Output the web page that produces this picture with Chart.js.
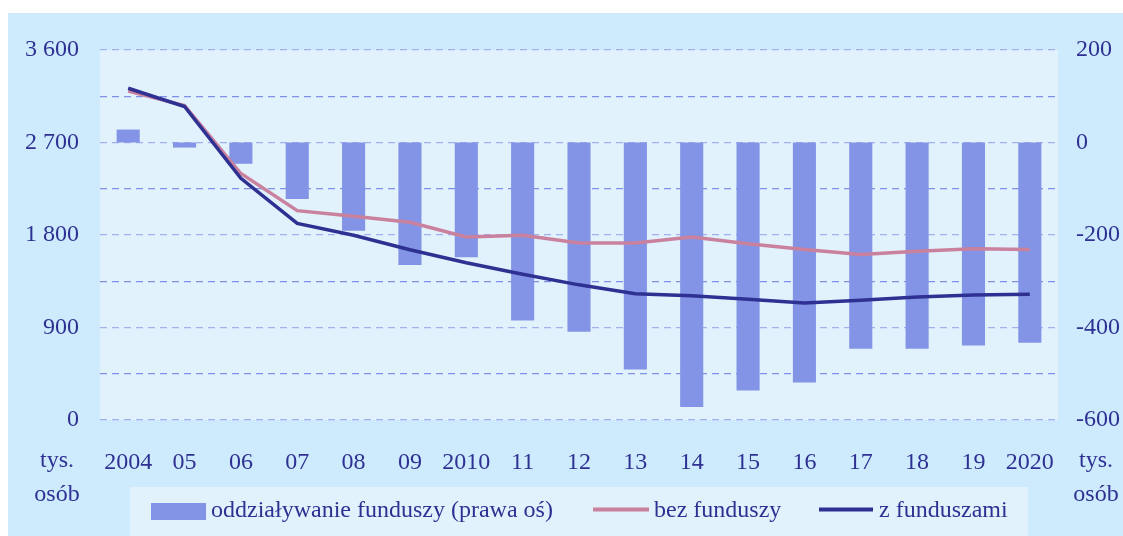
<!DOCTYPE html>
<html>
<head>
<meta charset="utf-8">
<script src="https://cdn.jsdelivr.net/npm/chart.js@4/dist/chart.umd.min.js"></script>
<style>
  html, body { margin: 0; padding: 0; background: #ffffff; }
  #wrap { width: 1123px; height: 536px; position: relative; }
</style>
</head>
<body>
<div id="wrap"><canvas id="fundsChart" width="1123" height="536"></canvas></div>
<script>
// values
const years = ['2004', '05', '06', '07', '08', '09', '2010', '11', '12', '13', '14', '15', '16', '17', '18', '19', '2020'];
const impact = [28, -11, -46, -122, -191, -265, -248, -385, -409, -491, -572, -536, -519, -446, -446, -439, -433];
const withoutFunds = [3200, 3060, 2398, 2037, 1982, 1924, 1781, 1797, 1722, 1722, 1780, 1715, 1658, 1610, 1642, 1665, 1658];
const withFunds = [3228, 3050, 2352, 1912, 1797, 1656, 1530, 1418, 1315, 1228, 1210, 1176, 1139, 1164, 1196, 1216, 1224];

const leftTicks = ['0', '900', '1 800', '2 700', '3 600'];
const rightTicks = ['-600', '-400', '-200', '0', '200'];
const legendLabels = ['oddziaływanie funduszy (prawa oś)', 'bez funduszy', 'z funduszami'];
const unitLabel = ['tys.', 'osób'];

const textColor = '#2f3192';
const fontFace = '"Liberation Serif", "DejaVu Serif", serif';

// backgrounds, legend and unit captions
const framePlugin = {
  id: 'frame',
  beforeDraw(chart) {
    const ctx = chart.ctx;
    const a = chart.chartArea;
    ctx.save();
    ctx.fillStyle = '#ffffff';
    ctx.fillRect(0, 0, chart.width, chart.height);
    ctx.fillStyle = '#cdebfd';
    ctx.fillRect(8, 13, chart.width - 8, chart.height - 13);
    ctx.fillStyle = '#e1f2fd';
    ctx.fillRect(a.left, a.top, a.right - a.left, a.bottom - a.top);
    ctx.fillRect(130, 487, 898, chart.height - 487);
    ctx.restore();
  },
  afterDraw(chart) {
    const ctx = chart.ctx;
    ctx.save();
    ctx.font = '24px ' + fontFace;
    ctx.fillStyle = textColor;
    ctx.textBaseline = 'alphabetic';
    ctx.textAlign = 'center';
    ctx.fillText(unitLabel[0], 57, 467);
    ctx.fillText(unitLabel[1], 57, 501);
    ctx.fillText(unitLabel[0], 1096, 467);
    ctx.fillText(unitLabel[1], 1096, 501);

    // legend
    ctx.textAlign = 'left';
    ctx.fillStyle = '#8394e6';
    ctx.fillRect(151, 503, 55, 17);
    ctx.lineWidth = 4;
    ctx.strokeStyle = '#c9819e';
    ctx.beginPath(); ctx.moveTo(593, 509.5); ctx.lineTo(649, 509.5); ctx.stroke();
    ctx.strokeStyle = '#2e3192';
    ctx.beginPath(); ctx.moveTo(819, 509.5); ctx.lineTo(873, 509.5); ctx.stroke();
    ctx.fillStyle = textColor;
    ctx.fillText(legendLabels[0], 211, 517);
    ctx.fillText(legendLabels[1], 654, 517);
    ctx.fillText(legendLabels[2], 879, 517);
    ctx.restore();
  }
};

const ctx = document.getElementById('fundsChart').getContext('2d');
const fundsChart = new Chart(ctx, {
  type: 'bar',
  data: {
    labels: years,
    datasets: [
      {
        type: 'line',
        label: legendLabels[2],
        data: withFunds,
        yAxisID: 'y',
        borderColor: '#2e3192',
        borderWidth: 3.5,
        pointRadius: 0,
        tension: 0,
        order: 1
      },
      {
        type: 'line',
        label: legendLabels[1],
        data: withoutFunds,
        yAxisID: 'y',
        borderColor: '#c9819e',
        borderWidth: 3.5,
        pointRadius: 0,
        tension: 0,
        order: 2
      },
      {
        type: 'bar',
        label: legendLabels[0],
        data: impact,
        yAxisID: 'y1',
        backgroundColor: '#8394e6',
        borderWidth: 0,
        categoryPercentage: 1,
        barPercentage: 0.41,
        order: 3
      }
    ]
  },
  options: {
    responsive: false,
    animation: false,
    layout: { padding: { top: 50, left: 0, right: 0, bottom: 0 } },
    plugins: {
      legend: { display: false },
      tooltip: { enabled: false }
    },
    scales: {
      x: {
        offset: true,
        grid: { display: false, drawTicks: false },
        border: { display: false },
        ticks: {
          color: textColor,
          font: { family: fontFace, size: 24 },
          padding: 28,
          maxRotation: 0,
          autoSkip: false
        },
        afterFit(scale) { scale.height = 116; }
      },
      y: {
        position: 'left',
        min: 0,
        max: 3600,
        ticks: {
          stepSize: 450,
          color: textColor,
          font: { family: fontFace, size: 24 },
          padding: 21,
          callback(value) {
            return value % 900 === 0 ? leftTicks[value / 900] : '';
          }
        },
        grid: {
          drawTicks: false,
          lineWidth: 1.3,
          color(c) {
            return c.tick && c.tick.value % 900 === 0 ? '#a3b0f0' : '#7f90e8';
          }
        },
        border: { display: false, dash: [7, 5] },
        afterFit(scale) { scale.width = 100; }
      },
      y1: {
        position: 'right',
        min: -600,
        max: 200,
        ticks: {
          stepSize: 200,
          color: textColor,
          font: { family: fontFace, size: 24 },
          padding: 18,
          callback(value) {
            return rightTicks[(value + 600) / 200];
          }
        },
        grid: { display: false, drawTicks: false },
        border: { display: false },
        afterFit(scale) { scale.width = 65; }
      }
    }
  },
  plugins: [framePlugin]
});
</script>
</body>
</html>
